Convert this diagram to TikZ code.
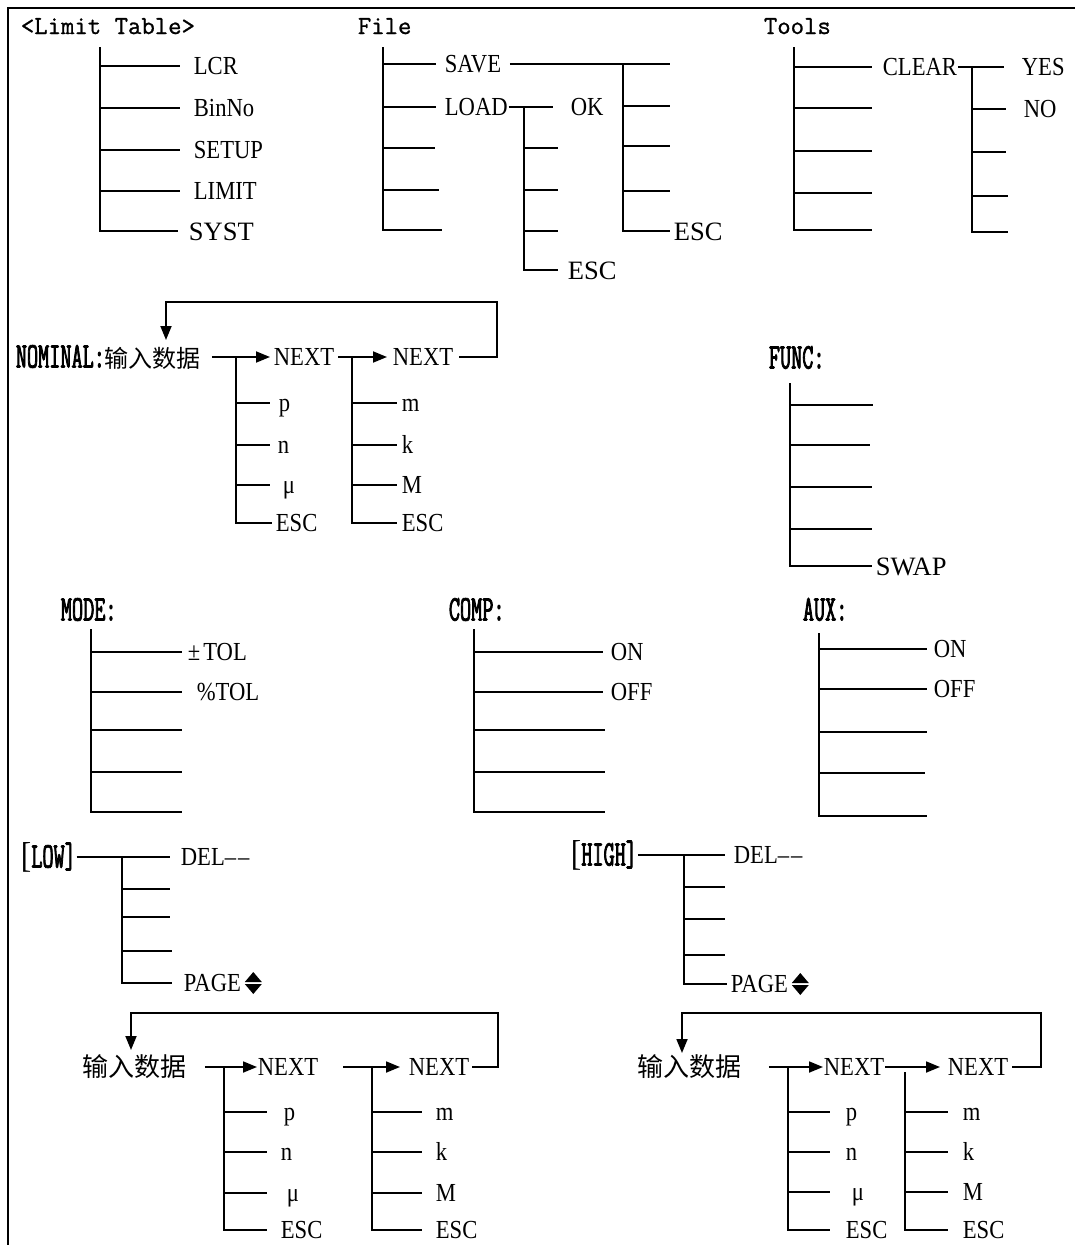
\documentclass[tikz,border=0pt]{standalone}
\usepackage{fontspec}
\setmainfont{Liberation Serif}
\newfontfamily\lblfont[FakeStretch=0.87]{Liberation Serif}
\newfontfamily\hdfont[FakeStretch=0.6,FakeBold=2.2]{Latin Modern Mono}
\newfontfamily\menufont[FakeBold=1]{Latin Modern Mono}
\newfontfamily\cjkfont{Noto Sans CJK SC}
\usetikzlibrary{arrows.meta}

\tikzset{
    lbl/.style={anchor=west, inner ysep=0pt, text height=17pt, text depth=0pt,
        font=\lblfont\fontsize{26}{26}\selectfont},
    tnr/.style={lbl, text height=18pt, font=\fontsize{26.5}{26.5}\selectfont},
    hd/.style={anchor=west, inner sep=0pt, text height=21pt, text depth=0pt,
        font=\hdfont\fontsize{36}{36}\selectfont},
    menu/.style={anchor=west, inner sep=0pt, text height=16pt, text depth=0pt,
        font=\menufont\fontsize{26}{26}\selectfont},
    cn/.style={anchor=west, inner sep=0pt, font=\cjkfont\fontsize{26}{26}\selectfont},
    arr/.style={-{Triangle[length=14pt,width=11pt]}},
}

\begin{document}
\begin{tikzpicture}[x=1pt, y=-1pt, line width=1.8pt]
    \useasboundingbox (0,0) rectangle (1075,1245);
    % 外框
    \draw (1075,8) -- (8,8) -- (8,1245);

    % Limit Table 菜单
    \node[menu] (ltab) at (20,26) {<Limit Table>};
    \coordinate (t1) at (100,47);
    \node[lbl, inner xsep=13pt] (lcr)   at (180,66)  {LCR};
    \node[lbl, inner xsep=13pt] (binno) at (180,108) {BinNo};
    \node[lbl, inner xsep=13pt] (setup) at (180,150) {SETUP};
    \node[lbl, inner xsep=13pt] (limit) at (180,191) {LIMIT};
    \node[tnr, inner xsep=10pt] (syst)  at (178,231) {SYST};
    \draw (t1) |- (syst.west);
    \foreach \n in {lcr,binno,setup,limit}
        \draw (t1 |- \n.west) -- (\n.west);

    % File 菜单
    \node[menu] (file) at (357,26) {File};
    \coordinate (t2) at (383,47);
    \node[lbl, inner xsep=8pt] (save) at (436,64)  {SAVE};
    \node[lbl, inner xsep=8pt] (load) at (436,107) {LOAD};
    \coordinate (f3) at (435,148);
    \coordinate (f4) at (439,190);
    \coordinate (f5) at (442,230);
    \draw (t2) |- (f5);
    \foreach \n in {save.west,load.west,f3,f4}
        \draw (t2 |- \n) -- (\n);

    % SAVE 子菜单
    \coordinate (t3) at (623,64);
    \coordinate (s1) at (670,64);
    \coordinate (s2) at (670,106);
    \coordinate (s3) at (670,146);
    \coordinate (s4) at (670,191);
    \node[tnr, inner xsep=3pt] (sesc) at (670,231) {ESC};
    \draw (save.east) -- (s1);
    \draw (t3) |- (sesc.west);
    \foreach \n in {s2,s3,s4}
        \draw (t3 |- \n) -- (\n);

    % LOAD 子菜单
    \coordinate (t4) at (524,107);
    \node[lbl, inner xsep=17pt] (ok) at (553,107) {OK};
    \coordinate (l2) at (558,148);
    \coordinate (l3) at (558,190);
    \coordinate (l4) at (558,231);
    \node[tnr, inner xsep=9pt] (lesc) at (558,270) {ESC};
    \draw ([xshift=-8pt]load.east) -- (ok.west);
    \draw (t4) |- (lesc.west);
    \foreach \n in {l2,l3,l4}
        \draw (t4 |- \n) -- (\n);

    % Tools 菜单
    \node[menu] (tools) at (763,26) {Tools};
    \coordinate (t5) at (794,47);
    \node[lbl, inner xsep=10pt] (clear) at (872,67) {CLEAR};
    \coordinate (c2) at (872,108);
    \coordinate (c3) at (872,151);
    \coordinate (c4) at (872,193);
    \coordinate (c5) at (872,230);
    \draw (t5) |- (c5);
    \foreach \n in {clear.west,c2,c3,c4}
        \draw (t5 |- \n) -- (\n);

    % CLEAR 子菜单
    \coordinate (t6) at (972,67);
    \node[lbl, inner xsep=17pt] (yes) at (1004,67)  {YES};
    \node[lbl, inner xsep=17pt] (no)  at (1006,109) {NO};
    \coordinate (y3) at (1006,152);
    \coordinate (y4) at (1008,196);
    \coordinate (y5) at (1008,232);
    \draw ([xshift=-10pt]clear.east) -- (yes.west);
    \draw (t6) |- (y5);
    \foreach \n in {no.west,y3,y4}
        \draw (t6 |- \n) -- (\n);

    % NOMINAL 输入
    \node[hd] (nom) at (15,357) {NOMINAL:{\cjkfont\fontsize{24}{24}\selectfont 输入数据}};
    \node[lbl, inner xsep=3pt] (nnx1) at (270,357) {NEXT};
    \node[lbl, inner xsep=5pt] (nnx2) at (387,357) {NEXT};
    \draw[arr] ([xshift=10pt]nom.east) -- (nnx1.west);
    \draw[arr] (nnx1.east) -- (nnx2.west);
    \coordinate (t7) at (236,357);
    \node[lbl, inner xsep=8pt]  (np)   at (270,403) {p};
    \node[lbl, inner xsep=7pt]  (nn)   at (270,445) {n};
    \node[lbl, inner xsep=12pt] (nmu)  at (270,485) {μ};
    \node[lbl, inner xsep=3pt]  (nesc) at (272,523) {ESC};
    \draw (t7) |- (nesc.west);
    \foreach \n in {np,nn,nmu}
        \draw (t7 |- \n.west) -- (\n.west);
    \coordinate (t8) at (352,357);
    \node[lbl, inner xsep=4pt] (nm)    at (397,403) {m};
    \node[lbl, inner xsep=4pt] (nk)    at (397,445) {k};
    \node[lbl, inner xsep=4pt] (nmm)   at (397,485) {M};
    \node[lbl, inner xsep=4pt] (nesc2) at (397,523) {ESC};
    \draw (t8) |- (nesc2.west);
    \foreach \n in {nm,nk,nmm}
        \draw (t8 |- \n.west) -- (\n.west);
    % 返回箭头
    \coordinate (nup) at (497,302);
    \coordinate (ntip) at (166,340);
    \draw[arr] (nnx2.east) -| (nup) -| (ntip);

    % FUNC 菜单
    \node[hd] (func) at (768,358) {FUNC:};
    \coordinate (t9) at (790,383);
    \coordinate (u1) at (873,405);
    \coordinate (u2) at (870,445);
    \coordinate (u3) at (872,487);
    \coordinate (u4) at (872,529);
    \node[tnr, inner xsep=3pt] (swap) at (872,566) {SWAP};
    \draw (t9) |- (swap.west);
    \foreach \n in {u1,u2,u3,u4}
        \draw (t9 |- \n) -- (\n);

    % MODE 菜单
    \node[hd] (mode) at (60,610) {MODE:};
    \coordinate (t10) at (91,629);
    \node[lbl, inner xsep=5pt]  (ptol) at (182,652) {±\kern3pt TOL};
    \node[lbl, inner xsep=14pt] (rtol) at (182,692) {\%TOL};
    \coordinate (m3) at (182,730);
    \coordinate (m4) at (182,772);
    \coordinate (m5) at (182,812);
    \draw (t10) |- (m5);
    \foreach \n in {ptol.west,rtol.west,m3,m4}
        \draw (t10 |- \n) -- (\n);

    % COMP 菜单
    \node[hd] (comp) at (448,610) {COMP:};
    \coordinate (t11) at (474,629);
    \node[lbl, inner xsep=7pt] (con)  at (603,652) {ON};
    \node[lbl, inner xsep=7pt] (coff) at (603,692) {OFF};
    \coordinate (k3) at (605,730);
    \coordinate (k4) at (605,772);
    \coordinate (k5) at (605,812);
    \draw (t11) |- (k5);
    \foreach \n in {con.west,coff.west,k3,k4}
        \draw (t11 |- \n) -- (\n);

    % AUX 菜单
    \node[hd] (aux) at (802,610) {AUX:};
    \coordinate (t12) at (819,633);
    \node[lbl, inner xsep=6pt] (aon)  at (927,649) {ON};
    \node[lbl, inner xsep=6pt] (aoff) at (927,689) {OFF};
    \coordinate (x3) at (927,732);
    \coordinate (x4) at (925,773);
    \coordinate (x5) at (927,816);
    \draw (t12) |- (x5);
    \foreach \n in {aon.west,aoff.west,x3,x4}
        \draw (t12 |- \n) -- (\n);

    % LOW 菜单
    \node[hd] (low) at (20,857) {{\lblfont[}LOW]};
    \node[lbl, inner xsep=10pt] (ldel) at (170,857) {DEL\textendash\kern2pt\textendash};
    \coordinate (t13) at (122,857);
    \coordinate (w2) at (170,889);
    \coordinate (w3) at (170,917);
    \coordinate (w4) at (172,951);
    \node[lbl, inner xsep=11pt] (lpage) at (172,983) {PAGE};
    \draw (low.east) -- (ldel.west);
    \draw (t13) |- (lpage.west);
    \foreach \n in {w2,w3,w4}
        \draw (t13 |- \n) -- (\n);
    \fill (lpage.east) ++(-8,-1) -- ++(17,0) -- ++(-8.5,-10) -- cycle;
    \fill (lpage.east) ++(-8,1) -- ++(17,0) -- ++(-8.5,10) -- cycle;

    % LOW 输入数据
    \node[cn] (lin) at (82,1067) {输入数据};
    \node[lbl, inner xsep=0pt] (lnx1) at (257,1067) {NEXT};
    \node[lbl, inner xsep=8pt] (lnx2) at (400,1067) {NEXT};
    \draw[arr] ([xshift=17pt]lin.east) -- (lnx1.west);
    \draw[arr] ([xshift=24pt]lnx1.east) -- (lnx2.west);
    \coordinate (t14) at (224,1067);
    \node[lbl, inner xsep=16pt] (lp)   at (267,1112) {p};
    \node[lbl, inner xsep=13pt] (ln)   at (267,1152) {n};
    \node[lbl, inner xsep=19pt] (lmu)  at (267,1193) {μ};
    \node[lbl, inner xsep=13pt] (lesc1) at (267,1230) {ESC};
    \draw (t14) |- (lesc1.west);
    \foreach \n in {lp,ln,lmu}
        \draw (t14 |- \n.west) -- (\n.west);
    \coordinate (t15) at (372,1067);
    \node[lbl, inner xsep=13pt] (lm)    at (422,1112) {m};
    \node[lbl, inner xsep=13pt] (lk)    at (422,1152) {k};
    \node[lbl, inner xsep=13pt] (lmm)   at (422,1193) {M};
    \node[lbl, inner xsep=13pt] (lesc2) at (422,1230) {ESC};
    \draw (t15) |- (lesc2.west);
    \foreach \n in {lm,lk,lmm}
        \draw (t15 |- \n.west) -- (\n.west);
    \coordinate (lup) at (498,1013);
    \coordinate (ltip) at (131,1050);
    \draw[arr] ([xshift=-6pt]lnx2.east) -| (lup) -| (ltip);

    % HIGH 菜单
    \node[hd] (high) at (570,855) {{\lblfont[}HIGH]};
    \node[lbl, inner xsep=8pt] (hdel) at (725,855) {DEL\textendash\kern2pt\textendash};
    \coordinate (t16) at (684,855);
    \coordinate (h2) at (725,887);
    \coordinate (h3) at (725,919);
    \coordinate (h4) at (725,955);
    \node[lbl, inner xsep=3pt] (hpage) at (727,984) {PAGE};
    \draw (high.east) -- (hdel.west);
    \draw (t16) |- (hpage.west);
    \foreach \n in {h2,h3,h4}
        \draw (t16 |- \n) -- (\n);
    \fill (hpage.east) ++(0,-1) -- ++(17,0) -- ++(-8.5,-10) -- cycle;
    \fill (hpage.east) ++(0,1) -- ++(17,0) -- ++(-8.5,10) -- cycle;

    % HIGH 输入数据
    \node[cn] (hin) at (637,1067) {输入数据};
    \node[lbl, inner xsep=0pt] (hnx1) at (823,1067) {NEXT};
    \node[lbl, inner xsep=7pt] (hnx2) at (940,1067) {NEXT};
    \draw[arr] ([xshift=26pt]hin.east) -- (hnx1.west);
    \draw[arr] (hnx1.east) -- (hnx2.west);
    \coordinate (t17) at (788,1067);
    \node[lbl, inner xsep=15pt] (hp)    at (830,1112) {p};
    \node[lbl, inner xsep=15pt] (hn)    at (830,1152) {n};
    \node[lbl, inner xsep=21pt] (hmu)   at (830,1192) {μ};
    \node[lbl, inner xsep=15pt] (hesc1) at (830,1230) {ESC};
    \draw (t17) |- (hesc1.west);
    \foreach \n in {hp,hn,hmu}
        \draw (t17 |- \n.west) -- (\n.west);
    \coordinate (t18) at (905,1072);
    \node[lbl, inner xsep=14pt] (hm)    at (948,1112) {m};
    \node[lbl, inner xsep=14pt] (hk)    at (948,1152) {k};
    \node[lbl, inner xsep=14pt] (hmm)   at (948,1192) {M};
    \node[lbl, inner xsep=14pt] (hesc2) at (948,1230) {ESC};
    \draw (t18) |- (hesc2.west);
    \foreach \n in {hm,hk,hmm}
        \draw (t18 |- \n.west) -- (\n.west);
    \coordinate (hup) at (1041,1013);
    \coordinate (htip) at (682,1053);
    \draw[arr] ([xshift=-4pt]hnx2.east) -| (hup) -| (htip);
\end{tikzpicture}
\end{document}
